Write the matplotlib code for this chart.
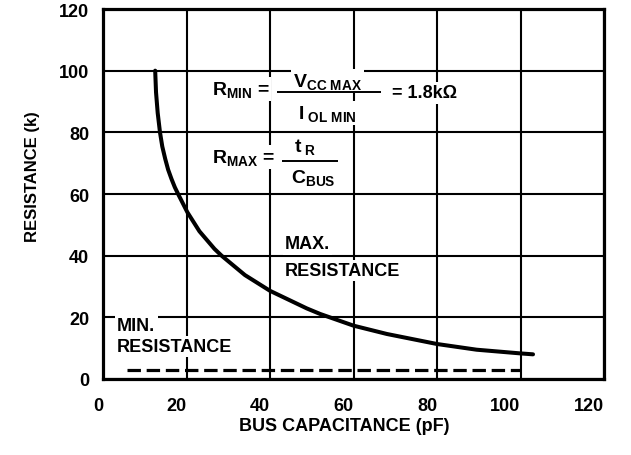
#!/usr/bin/env python3
"""
Pull-up resistor sizing chart: max/min resistance vs. bus capacitance.
"""
import matplotlib
matplotlib.use("Agg")
import matplotlib.pyplot as plt
from matplotlib import rcParams

rcParams.update({
    "font.family":       ["Liberation Sans", "DejaVu Sans"],
    "font.weight":       "bold",
    "font.size":         12,
    "mathtext.fontset":  "custom",
    "mathtext.rm":       "Liberation Sans:bold",
    "mathtext.it":       "Liberation Sans:bold",
    "mathtext.bf":       "Liberation Sans:bold",
    "mathtext.sf":       "Liberation Sans:bold",
    "axes.linewidth":    2.3,
})

# R_MAX curve
CAP_PF  = [12.5, 12.7, 13.1, 13.65, 14.2, 14.9, 15.6, 16.4, 17.2, 18.1,
           20.2, 23.1, 26.7, 28.4, 34.0, 40.0, 48.8, 52.0, 60.0, 68.0,
           80.0, 89.5, 100.0, 103.0]
R_MAX_K = [100.0, 93.0, 86.3, 80.0, 75.4, 71.4, 67.9, 64.9, 62.2, 59.7,
           54.1, 47.9, 42.2, 40.0, 33.7, 28.6, 22.9, 21.1, 17.3, 14.6,
           11.35, 9.5, 8.3, 8.0]

# R_MIN (dashed, flat)
RMIN_CAP_PF = [5.7, 100.0]
RMIN_K      = [3.0, 3.0]

X_TICKS = [0, 20, 40, 60, 80, 100, 120]
Y_TICKS = [0, 20, 40, 60, 80, 100, 120]

BOX = dict(facecolor="white", edgecolor="none", pad=1.5)


def _text(ax, x, y, s, ha="left", va="center", size=13):
    ax.text(x, y, s, ha=ha, va=va, fontsize=size, fontweight="bold",
            bbox=BOX, zorder=3)


def _fraction_bar(ax, x0, x1, y):
    ax.plot([x0, x1], [y, y], color="black", lw=1.4, zorder=4,
            solid_capstyle="butt")


def main():
    fig = plt.figure(figsize=(6.31, 4.56), dpi=100)
    ax = fig.add_axes([103 / 631, 76 / 456, 501 / 631, 370 / 456])

    ax.plot(CAP_PF, R_MAX_K, color="black", lw=2.9,
            solid_capstyle="round", solid_joinstyle="round", zorder=4)
    ax.plot(RMIN_CAP_PF, RMIN_K, color="black", lw=2.3,
            linestyle=(0, (4.2, 1.8)), dash_capstyle="butt", zorder=4)

    ax.set_xlim(0, 120)
    ax.set_ylim(0, 120)
    ax.set_xticks(X_TICKS)
    ax.set_yticks(Y_TICKS)
    ax.grid(True, color="black", lw=1.5)
    ax.set_axisbelow(True)
    ax.tick_params(axis="both", length=0, labelsize=13)
    ax.tick_params(axis="x", pad=13)
    ax.tick_params(axis="y", pad=10)
    for lbl in ax.get_xticklabels():
        lbl.set_horizontalalignment("right")

    ax.set_xlabel("BUS CAPACITANCE (pF)", fontsize=13, fontweight="bold",
                  va="center")
    ax.xaxis.set_label_coords(0.481, -0.127)
    ax.set_ylabel("RESISTANCE (k)", fontsize=12, fontweight="bold",
                  va="center")
    ax.yaxis.set_label_coords(-0.14, 0.549)

    # region labels
    _text(ax, 3.4, 17.3, "MIN.")
    _text(ax, 3.4, 10.6, "RESISTANCE")
    _text(ax, 43.6, 43.8, "MAX.")
    _text(ax, 43.6, 35.1, "RESISTANCE")

    # R_MIN formula
    _text(ax, 26.0, 92.4, r"R$_{MIN}$ =", va="baseline", size=14)
    _text(ax, 53.8, 95.1, r"V$_{CC\ MAX}$", ha="center", va="baseline", size=14)
    _fraction_bar(ax, 41.6, 66.7, 93.0)
    _text(ax, 53.8, 84.6, r"I$_{\ OL\ MIN}$", ha="center", va="baseline", size=14)
    _text(ax, 69.2, 92.8, "= 1.8k\u03a9")

    # R_MAX formula
    _text(ax, 26.0, 70.3, r"R$_{MAX}$ =", va="baseline", size=14)
    _text(ax, 48.4, 73.9, r"t$_{\ R}$", ha="center", va="baseline", size=14)
    _fraction_bar(ax, 42.8, 56.4, 70.6)
    _text(ax, 50.3, 63.8, r"C$_{BUS}$", ha="center", va="baseline", size=14)

    fig.savefig("out.png", dpi=100)
    plt.close(fig)


if __name__ == "__main__":
    main()
